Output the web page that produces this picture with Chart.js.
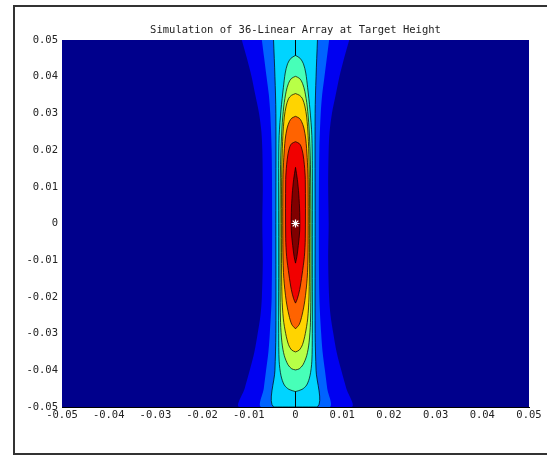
<!DOCTYPE html>
<html>
<head>
<meta charset="utf-8">
<script src="https://cdn.jsdelivr.net/npm/chart.js@4"></script>
<style>
html,body{margin:0;padding:0;background:#fff;}
#marco{position:absolute;left:13px;top:5px;width:540px;height:450px;border:2px solid #333;border-right:none;box-sizing:border-box;}
#caja{position:absolute;left:0;top:0;width:547px;height:456px;}
</style>
</head>
<body>
<div id="marco"></div>
<div id="caja"><canvas id="grafico" width="547" height="456"></canvas></div>
<script>
// ticks
const xTicks=[-0.05,-0.04,-0.03,-0.02,-0.01,0,0.01,0.02,0.03,0.04,0.05]
const xTickLabels=['-0.05','-0.04','-0.03','-0.02','-0.01','0','0.01','0.02','0.03','0.04','0.05']
const yTicks=[-0.05,-0.04,-0.03,-0.02,-0.01,0,0.01,0.02,0.03,0.04,0.05]
const yTickLabels=['-0.05','-0.04','-0.03','-0.02','-0.01','0','0.01','0.02','0.03','0.04','0.05']

// contornos: [y, media anchura en x] de arriba a abajo
const nivel1=[[0.05,0.0115],[0.045,0.0104],[0.04,0.0094],[0.035,0.0086],[0.03,0.0078],[0.025,0.0073],[0.02,0.0071],[0.01,0.0070],[0,0.0071],[-0.01,0.0070],[-0.02,0.0072],[-0.025,0.0075],[-0.03,0.0081],[-0.035,0.0088],[-0.04,0.0098],[-0.045,0.0109],[-0.05,0.0120]]
const nivel2=[[0.05,0.0072],[0.045,0.0067],[0.04,0.0062],[0.035,0.0057],[0.03,0.0054],[0.02,0.0051],[0,0.0050],[-0.02,0.0051],[-0.03,0.0055],[-0.035,0.0058],[-0.04,0.0063],[-0.045,0.0068],[-0.05,0.0073]]
const nivel3=[[0.05,0.0047],[0.04,0.0044],[0.03,0.0042],[0,0.0042],[-0.03,0.0042],[-0.04,0.0044],[-0.05,0.0047]]
const nivel4=[[0.0458,0],[0.0450,0.0010],[0.0435,0.0017],[0.041,0.0022],[0.037,0.0026],[0.031,0.0031],[0.024,0.0035],[0.015,0.0036],[0,0.0036],[-0.015,0.0036],[-0.03,0.0036],[-0.0375,0.0035],[-0.0415,0.0031],[-0.0440,0.0024],[-0.0452,0.0014],[-0.0458,0]]
const nivel5=[[0.0401,0],[0.0395,0.0009],[0.0382,0.0015],[0.036,0.0020],[0.032,0.0025],[0.026,0.0029],[0.016,0.0032],[0,0.0033],[-0.016,0.0033],[-0.027,0.0032],[-0.0325,0.0029],[-0.036,0.0024],[-0.0385,0.0016],[-0.0396,0.0008],[-0.0399,0]]
const nivel6=[[0.0354,0],[0.0349,0.0009],[0.034,0.0015],[0.032,0.0020],[0.029,0.0024],[0.024,0.0027],[0.017,0.0029],[0.008,0.0030],[-0.008,0.0030],[-0.02,0.0029],[-0.026,0.0026],[-0.030,0.0021],[-0.033,0.0015],[-0.0345,0.0008],[-0.0350,0]]
const nivel7=[[0.0292,0],[0.0287,0.0008],[0.0278,0.0013],[0.026,0.0018],[0.023,0.0022],[0.018,0.0025],[0.012,0.0027],[-0.008,0.0027],[-0.015,0.0025],[-0.021,0.0020],[-0.025,0.0014],[-0.0275,0.0008],[-0.0287,0]]
const nivel8=[[0.0223,0],[0.0218,0.0008],[0.021,0.0012],[0.019,0.0016],[0.016,0.0019],[0.012,0.0021],[-0.004,0.0021],[-0.009,0.0019],[-0.014,0.0014],[-0.018,0.0009],[-0.0205,0.0004],[-0.0217,0]]
const nivel9=[[0.0153,0],[0.012,0.0004],[0.008,0.0007],[0.003,0.0009],[-0.002,0.0009],[-0.006,0.0006],[-0.009,0.0003],[-0.0108,0]]
const lineaArriba=[[0,0.05],[0,0.0458]]
const lineaAbajo=[[0,-0.0458],[0,-0.05]]
const pico=[[0,0]]

const niveles=[nivel1,nivel2,nivel3,nivel4,nivel5,nivel6,nivel7,nivel8,nivel9]
// colormap jet, 10 niveles
const colores=['#00008c','#0000f1','#0063ff','#00d4ff','#47ffb8','#b8ff47','#ffd400','#ff6300','#f10000','#800000']

function contorno(puntos){
    const der=puntos.map(p=>({x:p[1],y:p[0]}))
    const izq=puntos.slice().reverse().map(p=>({x:-p[1],y:p[0]}))
    return der.concat(izq)
}

const fondo={
    id:'fondo',
    beforeDatasetsDraw(chart){
        const {ctx,chartArea:a}=chart
        ctx.save()
        ctx.fillStyle=colores[0]
        ctx.fillRect(a.left,a.top,a.width,a.height)
        ctx.restore()
    }
}

const conjuntos=niveles.map((n,i)=>({
    data:contorno(n),
    showLine:true,
    fill:'shape',
    backgroundColor:colores[i+1],
    borderColor:i<2?'rgba(0,0,0,0)':'#000',
    borderWidth:0.7,
    pointRadius:0,
    tension:0.3,
    order:30-i
}))
conjuntos.push({data:lineaArriba.map(p=>({x:p[0],y:p[1]})),showLine:true,borderColor:'#000',borderWidth:0.7,pointRadius:0,order:5})
conjuntos.push({data:lineaAbajo.map(p=>({x:p[0],y:p[1]})),showLine:true,borderColor:'#000',borderWidth:0.7,pointRadius:0,order:5})
conjuntos.push({data:pico.map(p=>({x:p[0],y:p[1]})),pointStyle:'star',pointRadius:4,borderColor:'#fff',backgroundColor:'#fff',borderWidth:1.2,order:1})

const fuente={family:'DejaVu Sans Mono',size:10.5}

new Chart(document.getElementById('grafico'),{
    type:'scatter',
    data:{datasets:conjuntos},
    plugins:[fondo],
    options:{
        responsive:false,
        animation:false,
        layout:{padding:{left:0,right:18,top:0,bottom:0}},
        plugins:{
            legend:{display:false},
            tooltip:{enabled:false},
            title:{
                display:true,
                text:'Simulation of 36-Linear Array at Target Height',
                fullSize:false,
                color:'#222',
                font:{family:'DejaVu Sans Mono',size:10.5,weight:'normal',lineHeight:1.2},
                padding:{top:24,bottom:3.4}
            }
        },
        scales:{
            x:{
                type:'linear',min:-0.05,max:0.05,
                afterBuildTicks:s=>{s.ticks=xTicks.map(v=>({value:v}))},
                afterFit:s=>{s.height=49},
                ticks:{callback:(v,i)=>xTickLabels[i],font:fuente,color:'#222',padding:2,maxRotation:0,autoSkip:false},
                grid:{display:false,drawTicks:false},
                border:{display:true,color:'#000',width:1}
            },
            y:{
                type:'linear',min:-0.05,max:0.05,
                afterBuildTicks:s=>{s.ticks=yTicks.map(v=>({value:v}))},
                afterFit:s=>{s.width=62},
                ticks:{callback:(v,i)=>yTickLabels[i],font:fuente,color:'#222',padding:4,autoSkip:false},
                grid:{display:false,drawTicks:false},
                border:{display:true,color:'#000',width:1}
            }
        }
    }
})
</script>
</body>
</html>
